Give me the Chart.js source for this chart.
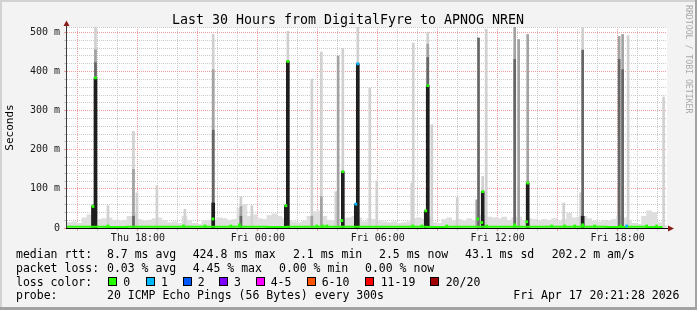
<!DOCTYPE html>
<html>
<head>
<meta charset="utf-8">
<script src="https://cdn.jsdelivr.net/npm/chart.js@4"></script>
<style>
  html, body { margin: 0; padding: 0; background: #f3f3f3; }
  canvas { display: block; }
</style>
</head>
<body>
<canvas id="chart" width="697" height="310"></canvas>
<script>
// time axis in hours since Thu 00:00
const startHour = 14.45;
const endHour = 44.47;

// light smoke along the bottom, one value per 15 minutes (ms)
const noiseStep = 0.25;
const noiseTop = [14,16,12,26,34,30,22,24,26,20,18,20,30,36,22,18,20,24,26,18,
                  14,16,12,30,20,12,10,18,20,22,26,24,20,22,50,60,30,34,24,22,
                  32,36,30,24,20,16,14,18,30,42,44,30,20,18,22,24,26,30,26,16,
                  24,22,18,16,14,16,12,14,16,24,26,22,28,14,12,22,26,18,22,18,
                  24,20,32,30,28,26,24,28,20,26,28,20,24,22,18,22,20,24,18,22,
                  38,26,28,30,24,18,16,20,18,22,30,26,20,12,10,30,44,40,14,6];

// spikes: time and the top of each smoke density (ms)
const spikeHour  = [15.75,15.875,16.5,17.775,17.95,18.95,20.35,21.765,23.15,23.7,
                    25.4,25.5,26.7,27.175,27.9,28.015,28.25,28.9,29.0,29.6,
                    29.95,31.7,31.775,32.4,32.5,32.7,33.975,34.95,35.04,35.25,
                    35.425,36.85,37.05,37.5,39.3,40.15,40.25,42.075,42.25,42.525,44.3];
const spikeLight = [0,515,57,247,90,108,48,495,80,57,
                    0,503,381,450,93,0,459,0,513,358,
                    120,115,473,0,501,264,78,0,0,132,
                    508,0,0,0,64,90,515,0,0,492,335];
const spikeMid   = [60,456,0,150,0,0,0,405,55,0,
                    60,0,30,80,0,440,0,0,0,0,
                    0,0,0,0,470,0,0,72,0,0,
                    0,515,482,495,0,0,0,490,495,0,0];
const spikeDark  = [0,423,0,30,0,0,0,250,30,0,
                    0,0,0,0,0,0,0,0,0,0,
                    0,0,0,0,436,0,0,0,486,0,
                    0,431,0,0,0,0,455,431,405,0,0];
const spikeBlack = [55,384,0,0,0,0,0,64,0,0,
                    57,426,0,0,0,0,144,61,420,0,
                    0,0,0,44,364,0,0,0,0,93,
                    0,0,0,115,0,0,30,0,0,0,0];

// median rtt, hourly (ms)
const medianLine = [3,3,2.8,3,3.2,3,2.9,3,3.1,3,2.8,3,3,3.2,3,2.9,
                    3,3,2.8,3,3.1,3,3,2.9,3,3.2,3,2.8,3,2.5];
const medianLastHour = 44.25;

// median marks with their loss bucket
const medHour  = [15.75,15.875,16.5,20.275,21.35,21.75,22.65,23.075,25.4,25.5,
                  26.95,27.25,27.45,28.2,28.25,28.9,29.0,31.75,32.2,32.4,
                  32.5,33.45,35.0,35.2,35.25,35.45,36.85,37.45,37.5,38.7,
                  39.35,39.85,40.25,40.85,42.15,42.45,43.45,43.95];
const medValue = [55,384,5,5,5,23,5,8,57,426,
                  5,5,5,19,144,61,420,5,5,44,
                  364,5,23,14,93,5,8,16,115,5,
                  5,5,8,5,5,5,5,5];
const medLoss  = [0,0,0,0,0,0,0,0,0,0,0,0,0,0,0,1,1,0,0,0,
                  0,0,0,0,0,0,0,0,0,0,0,0,0,0,0,1,0,0];

const lossLabels = ['0','1','2','3','4-5','6-10','11-19','20/20'];
const lossColors = ['#26ff00','#00b8ff','#0059ff','#7e00ff','#ff00ff','#ff5500','#ff0000','#a10000'];

const MONO = '"DejaVu Sans Mono", monospace';
const MINOR = '#c9c9c9';
const MAJOR = '#f19c9c';

function spikeBars(tops, color, thick, order) {
    return {
        type: 'bar',
        data: spikeHour.map((h, i) => ({ x: h, y: [0, tops[i]] })).filter(d => d.y[1] > 0),
        backgroundColor: color,
        barThickness: thick,
        grouped: false,
        borderWidth: 0,
        order: order
    };
}

function hourLabel(v) {
    const hh = ((v % 24) + 24) % 24;
    if (hh % 6 !== 0) return '';
    return (v < 24 ? 'Thu ' : 'Fri ') + String(hh).padStart(2, '0') + ':00';
}

const framePlugin = {
    id: 'frame',
    beforeDraw(chart) {
        const ctx = chart.ctx;
        const a = chart.chartArea;
        ctx.save();
        ctx.fillStyle = '#f3f3f3';
        ctx.fillRect(0, 0, 697, 310);
        ctx.fillStyle = '#d2d2d2';
        ctx.fillRect(0, 0, 697, 2);
        ctx.fillRect(0, 0, 2, 310);
        ctx.fillStyle = '#a2a2a2';
        ctx.fillRect(695, 0, 2, 310);
        ctx.fillRect(0, 307, 697, 3);
        ctx.fillStyle = '#ffffff';
        ctx.fillRect(a.left, a.top, a.right - a.left, a.bottom - a.top);
        ctx.restore();
    },
    beforeDatasetsDraw(chart) {
        const ctx = chart.ctx;
        const a = chart.chartArea;
        ctx.save();
        ctx.strokeStyle = MINOR;
        ctx.setLineDash([1, 1]);
        ctx.beginPath();
        ctx.moveTo(a.left, a.top + 0.5);
        ctx.lineTo(a.right, a.top + 0.5);
        ctx.stroke();
        ctx.restore();
    },
    afterDatasetsDraw(chart) {
        const ctx = chart.ctx;
        const a = chart.chartArea;
        ctx.save();
        // axes
        ctx.strokeStyle = '#3a3a3a';
        ctx.lineWidth = 1;
        ctx.beginPath();
        ctx.moveTo(a.left - 0.5, a.bottom + 1);
        ctx.lineTo(a.left - 0.5, 23);
        ctx.stroke();
        ctx.strokeStyle = '#000';
        ctx.beginPath();
        ctx.moveTo(a.left - 1, a.bottom + 0.5);
        ctx.lineTo(a.right + 3, a.bottom + 0.5);
        ctx.stroke();
        ctx.fillStyle = '#8a1c1c';
        ctx.beginPath();
        ctx.moveTo(a.left - 3.5, 26);
        ctx.lineTo(a.left + 2.5, 26);
        ctx.lineTo(a.left - 0.5, 20.5);
        ctx.closePath();
        ctx.fill();
        ctx.beginPath();
        ctx.moveTo(a.right + 1, a.bottom - 2.5);
        ctx.lineTo(a.right + 1, a.bottom + 3.5);
        ctx.lineTo(a.right + 7, a.bottom + 0.5);
        ctx.closePath();
        ctx.fill();
        ctx.restore();
    },
    afterDraw(chart) {
        const ctx = chart.ctx;
        ctx.save();
        ctx.fillStyle = '#000';
        ctx.font = '13.3px ' + MONO;
        ctx.textAlign = 'center';
        ctx.textBaseline = 'alphabetic';
        ctx.fillText('Last 30 Hours from DigitalFyre to APNOG NREN', 348, 24);

        ctx.font = '11.5px ' + MONO;
        ctx.textAlign = 'left';
        const rows = [
            [258, [[16, 'median rtt:'], [107, '8.7 ms avg'], [192.7, '424.8 ms max'], [293, '2.1 ms min'],
                   [379, '2.5 ms now'], [465, '43.1 ms sd'], [551.7, '202.2 m am/s']]],
            [271.8, [[16, 'packet loss:'], [107, '0.03 % avg'], [192.7, '4.45 % max'], [279, '0.00 % min'],
                     [365, '0.00 % now']]],
            [285.6, [[16, 'loss color:']]],
            [299.4, [[16, 'probe:'], [107, '20 ICMP Echo Pings (56 Bytes) every 300s'],
                     [513.3, 'Fri Apr 17 20:21:28 2026']]]
        ];
        rows.forEach(([y, items]) => items.forEach(([x, t]) => ctx.fillText(t, x, y)));

        const boxX = [108, 145.7, 182.7, 219, 256, 307.3, 365, 430.3];
        const textX = [123.3, 161, 197.7, 234, 270.7, 321.7, 380.7, 445.7];
        lossLabels.forEach((lab, i) => {
            ctx.fillStyle = lossColors[i];
            ctx.fillRect(Math.round(boxX[i]), 277, 9, 9);
            ctx.strokeStyle = '#000';
            ctx.lineWidth = 1;
            ctx.strokeRect(Math.round(boxX[i]) + 0.5, 277.5, 8, 8);
            ctx.fillStyle = '#000';
            ctx.fillText(lab, textX[i], 285.6);
        });

        ctx.font = '8.2px ' + MONO;
        ctx.fillStyle = '#a9a9a9';
        ctx.translate(688.5, 5);
        ctx.rotate(Math.PI / 2);
        ctx.textBaseline = 'middle';
        ctx.fillText('RRDTOOL / TOBI OETIKER', 0, 0);
        ctx.restore();
    }
};

new Chart(document.getElementById('chart'), {
    type: 'scatter',
    data: {
        datasets: [
            {
                type: 'bar',
                data: noiseTop.map((v, i) => ({ x: startHour + noiseStep * (i + 0.5), y: [0, v] })),
                backgroundColor: '#dedede',
                barThickness: 5,
                grouped: false,
                borderWidth: 0,
                order: 6
            },
            spikeBars(spikeLight, '#d0d0d0', 2, 5),
            spikeBars(spikeMid, '#a2a2a2', 2, 4),
            spikeBars(spikeDark, '#666666', 2, 3),
            spikeBars(spikeBlack, '#1e1e1e', 3, 2),
            {
                type: 'line',
                data: medianLine.map((v, i) => ({ x: Math.min(startHour + i, medianLastHour), y: v }))
                    .concat([{ x: medianLastHour, y: medianLine[medianLine.length - 1] }]),
                borderColor: lossColors[0],
                borderWidth: 2,
                stepped: true,
                pointRadius: 0,
                order: 1
            },
            {
                type: 'line',
                showLine: false,
                data: medHour.map((h, i) => ({ x: h, y: medValue[i] })),
                pointStyle: 'rect',
                pointRadius: 2,
                pointBorderWidth: 0,
                pointBackgroundColor: medLoss.map(l => lossColors[l]),
                order: 0
            }
        ]
    },
    options: {
        responsive: false,
        animation: false,
        events: [],
        layout: { padding: { left: 0, top: 27, right: 30, bottom: 0 } },
        plugins: {
            legend: { display: false },
            tooltip: { enabled: false }
        },
        scales: {
            x: {
                type: 'linear',
                min: startHour,
                max: endHour,
                offset: false,
                afterFit: s => { s.height = 82; },
                border: { display: false, dash: [1, 1] },
                grid: {
                    offset: false,
                    color: c => (c.tick && c.tick.value % 3 === 0) ? MAJOR : MINOR,
                    tickLength: 3,
                    tickBorderDash: []
                },
                ticks: {
                    stepSize: 1,
                    includeBounds: false,
                    autoSkip: false,
                    maxRotation: 0,
                    padding: 1,
                    color: '#1a1a1a',
                    font: { family: MONO, size: 10 },
                    callback: v => hourLabel(v)
                }
            },
            y: {
                min: 0,
                max: 514,
                afterFit: s => { s.width = 67; },
                border: { display: false, dash: [1, 1] },
                grid: {
                    color: c => (c.tick && c.tick.value % 100 === 0) ? MAJOR : MINOR,
                    tickLength: 3,
                    tickBorderDash: []
                },
                ticks: {
                    stepSize: 20,
                    includeBounds: false,
                    autoSkip: false,
                    padding: 4,
                    color: '#1a1a1a',
                    font: { family: MONO, size: 10 },
                    callback: v => v === 0 ? '0' : (v % 100 === 0 ? v + ' m' : '')
                },
                title: {
                    display: true,
                    text: 'Seconds',
                    color: '#000',
                    font: { family: MONO, size: 11 },
                    padding: { top: 4, bottom: 0 }
                }
            }
        }
    },
    plugins: [framePlugin]
});
</script>
</body>
</html>
